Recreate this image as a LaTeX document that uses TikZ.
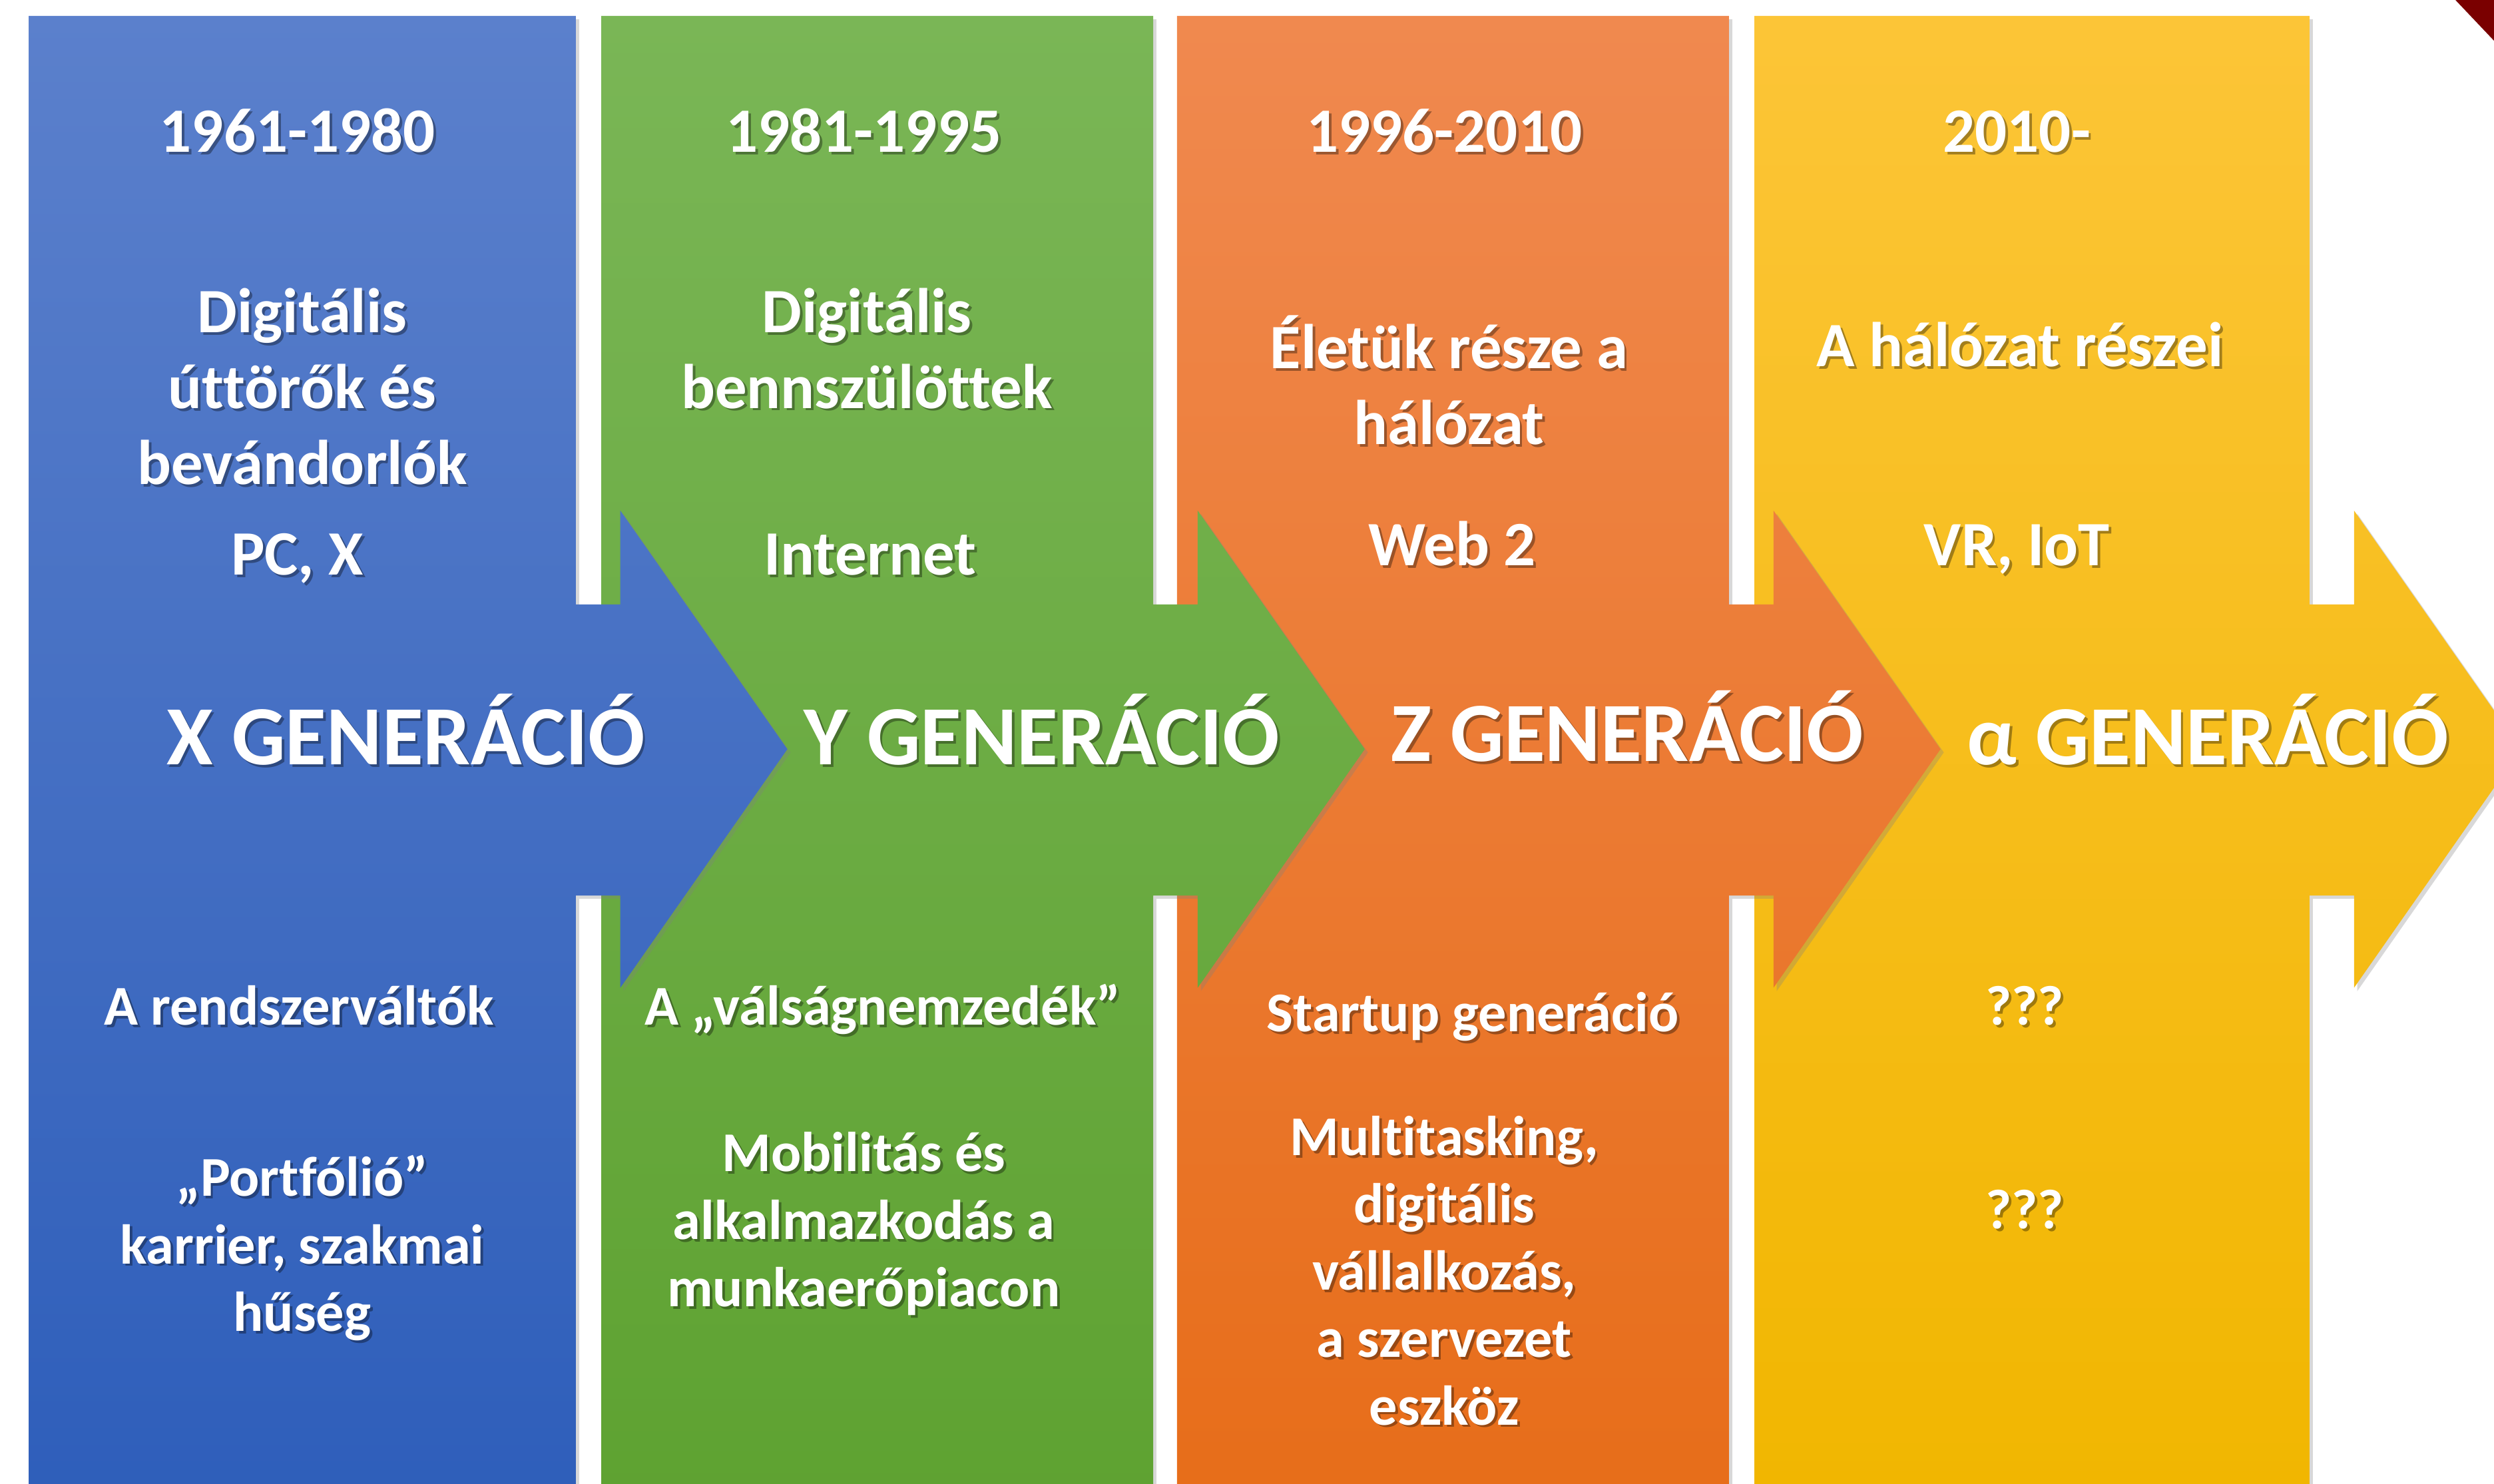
\documentclass[tikz,border=0pt]{standalone}
\usepackage{fontspec}
\setmainfont[Ligatures=NoCommon]{Carlito}
\usepackage{tikz}
\usetikzlibrary{positioning,shadows}

\definecolor{btop}{HTML}{5B80CC}
\definecolor{bbot}{HTML}{2E5EBA}
\definecolor{gtop}{HTML}{7AB656}
\definecolor{gbot}{HTML}{5EA231}
\definecolor{otop}{HTML}{F0894F}
\definecolor{obot}{HTML}{E76D19}
\definecolor{ytop}{HTML}{FCC537}
\definecolor{ybot}{HTML}{F1B600}
\definecolor{cornerred}{HTML}{7A0000}

\newcommand{\gentext}[4]{%
  \node[#2, text=black, text opacity=.35] at ([shift={(1.1pt,-1.1pt)}]#3) {#4};
  \node[#2] (#1) at (#3) {#4};}

\begin{document}
\begin{tikzpicture}[x=0.2389mm,y=-0.2389mm]
		\tikzstyle{every node}+=[inner sep=0pt]
		\tikzstyle{body}=[text=white, align=center, font=\fontsize{27}{32.4}\selectfont\bfseries,
			execute at begin node=\strut, execute at end node=\strut]
		\tikzstyle{small}=[body, font=\fontsize{24}{28.8}\selectfont\bfseries]
		\tikzstyle{gen}=[body, font=\fontsize{36}{43.2}\selectfont\bfseries]
		\tikzstyle{column}=[drop shadow={shadow xshift=1.4pt, shadow yshift=-1.4pt, opacity=.3}]
		\clip (0,0) rectangle (1568,933);
		\fill [white] (0,0) rectangle (1568,933);
		\foreach \l/\r/\tc/\bc in {1103/1452/ytop/ybot, 740/1087/otop/obot, 378/725/gtop/gbot, 18/362/btop/bbot}
			\path [column, top color=\tc, bottom color=\bc] (\l,10) -- (\r,10) -- (\r,380) -- ({\r+28},380)
				-- ({\r+28},321) -- ({\r+133},471) -- ({\r+28},621) -- ({\r+28},563) -- (\r,563)
				-- (\r,950) -- (\l,950) -- cycle;
		\fill [cornerred] (1539,-5) -- (1575,-5) -- (1575,33) -- cycle;
		\gentext{yr1}{body}{187,86}{1961-1980}
		\gentext{dig1}{body}{190,250}{Digitális\\úttörők és\\bevándorlók}
		\gentext{tech1}{body}{187,352}{PC, X}
		\gentext{gen1}{gen}{255,468}{X GENERÁCIÓ}
		\gentext{nick1}{small}{188,636}{A rendszerváltók}
		\gentext{car1}{small}{190,788}{„Portfólió”\\karrier, szakmai\\hűség}
		\gentext{yr2}{body}{543,86}{1981-1995}
		\gentext{dig2}{body}{545,226}{Digitális\\bennszülöttek}
		\gentext{tech2}{body}{547,352}{Internet}
		\gentext{gen2}{gen}{655,468}{Y GENERÁCIÓ}
		\gentext{nick2}{small}{555,636}{A „válságnemzedék”}
		\gentext{car2}{small}{543,773}{Mobilitás és\\alkalmazkodás a\\munkaerőpiacon}
		\gentext{yr3}{body}{908,86}{1996-2010}
		\gentext{dig3}{body}{911,246}{Életük része a\\hálózat}
		\gentext{tech3}{body}{913,346}{Web 2}
		\gentext{gen3}{gen}{1023,466}{Z GENERÁCIÓ}
		\gentext{nick3}{small}{926,640}{Startup generáció}
		\gentext{car3}{small}{908,805}{Multitasking,\\digitális\\vállalkozás,\\a szervezet\\eszköz}
		\gentext{yr4}{body}{1268,86}{2010-}
		\gentext{dig4}{body}{1270,221}{A hálózat részei}
		\gentext{tech4}{body}{1268,346}{VR, IoT}
		\gentext{gen4}{gen}{1388,468}{α GENERÁCIÓ}
		\gentext{nick4}{small}{1273,636}{???}
		\gentext{car4}{small}{1273,764}{???}
\end{tikzpicture}
\end{document}
